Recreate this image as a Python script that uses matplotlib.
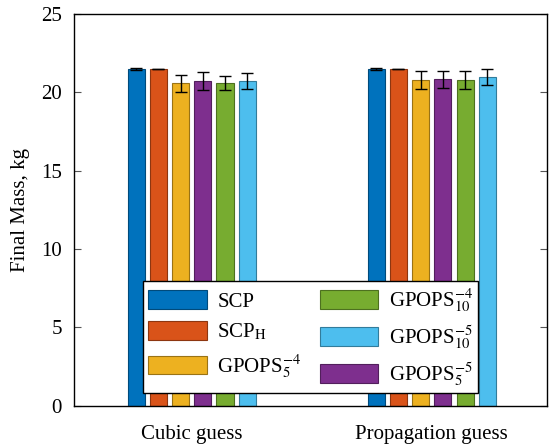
import numpy as np
import matplotlib
matplotlib.use("Agg")
import matplotlib.pyplot as plt
from matplotlib.colors import to_rgb

# data
groups = ["Cubic guess", "Propagation guess"]
series = ["SCP", "SCP$_\\mathrm{H}$", "GPOPS$_5^{-4}$", "GPOPS$_5^{-5}$",
          "GPOPS$_{10}^{-4}$", "GPOPS$_{10}^{-5}$"]
colors = ["#0072BD", "#D95319", "#EDB120", "#7E2F8E", "#77AC30", "#4DBEEE"]
means = [
    [21.48, 21.47],  # SCP
    [21.48, 21.48],  # SCP_H
    [20.58, 20.79],  # GPOPS 5 -4
    [20.70, 20.83],  # GPOPS 5 -5
    [20.58, 20.77],  # GPOPS 10 -4
    [20.70, 20.98],  # GPOPS 10 -5
]
errs = [
    [0.06, 0.06],
    [0.02, 0.02],
    [0.53, 0.59],
    [0.57, 0.53],
    [0.45, 0.56],
    [0.50, 0.50],
]
legend_order = [0, 1, 2, 4, 5, 3]

plt.rcParams["font.family"] = ["Liberation Serif", "DejaVu Serif"]
plt.rcParams["mathtext.fontset"] = "stix"
plt.rcParams["font.size"] = 15

fig = plt.figure(figsize=(5.49, 4.44), dpi=100)
ax = fig.add_axes([0.1357, 0.0867, 0.8607, 0.8818])

x = np.arange(1, len(groups) + 1)
step = 0.0925
width = 0.071
handles = []
for i, (lab, c) in enumerate(zip(series, colors)):
    edge = tuple(v * 0.65 for v in to_rgb(c))
    b = ax.bar(x + (i - 2.5) * step, means[i], width, color=c, edgecolor=edge,
               linewidth=0.8, label=lab, zorder=2)
    ax.errorbar(x + (i - 2.5) * step, means[i], yerr=errs[i], fmt="none",
                ecolor="black", elinewidth=1.0, capsize=4, capthick=1.0, zorder=3)
    handles.append(b)

ax.set_xlim(0.512, 2.48)
ax.set_ylim(0, 25)
ax.set_xticks(x)
ax.set_xticklabels(groups)
ax.set_yticks([0, 5, 10, 15, 20, 25])
ax.tick_params(axis="x", length=0, pad=14)
ax.tick_params(axis="y", direction="in", length=5, width=0.8, color="#555555",
               right=True, pad=9)
ax.set_ylabel("Final Mass, kg", labelpad=8)
for s in ax.spines.values():
    s.set_linewidth(1.0)

leg = ax.legend([handles[i] for i in legend_order],
                [series[i] for i in legend_order],
                ncol=2, loc="lower center", bbox_to_anchor=(0.5, 0.031),
                borderaxespad=0,
                fancybox=False, framealpha=1, edgecolor="black",
                handlelength=2.8, handleheight=1.0, columnspacing=0.9,
                labelspacing=0.45, borderpad=0.25, handletextpad=0.5)
leg.get_frame().set_linewidth(1.0)

fig.savefig("out.png", dpi=100)
